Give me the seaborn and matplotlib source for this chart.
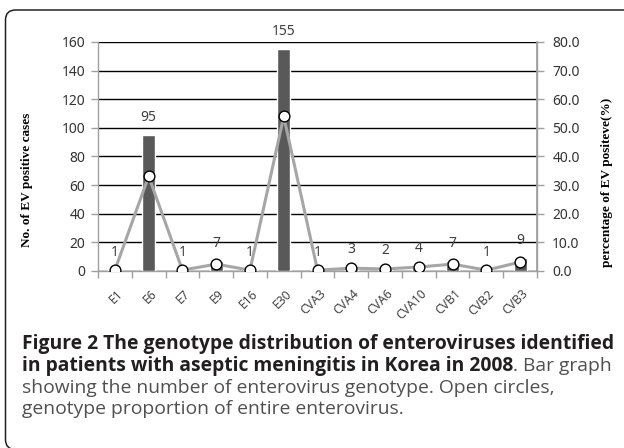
import numpy as np
import pandas as pd
import matplotlib
matplotlib.use("Agg")
import matplotlib.pyplot as plt
import matplotlib.transforms as mtransforms
from matplotlib.patches import FancyBboxPatch
import seaborn as sns

genotypes = ["E1", "E6", "E7", "E9", "E16", "E30", "CVA3", "CVA4", "CVA6",
             "CVA10", "CVB1", "CVB2", "CVB3"]
cases = [1, 95, 1, 7, 1, 155, 1, 3, 2, 4, 7, 1, 9]
percent = [0.3, 33.1, 0.3, 2.4, 0.3, 54.0, 0.3, 1.0, 0.7, 1.4, 2.4, 0.3, 3.1]
left_ticks = [0, 20, 40, 60, 80, 100, 120, 140, 160]
right_ticks = [0.0, 10.0, 20.0, 30.0, 40.0, 50.0, 60.0, 70.0, 80.0]

df = pd.DataFrame({"genotype": genotypes, "cases": cases, "percent": percent})
df["pos"] = np.arange(len(df))

sns.set_theme(style="white")
plt.rcParams["font.family"] = ["Noto Sans", "DejaVu Sans"]

fig = plt.figure(figsize=(6.24, 4.48), dpi=100)
W, H = 624, 448
ax = fig.add_axes([98 / W, 1 - 271 / H, (537 - 98) / W, (271 - 42) / H])

sns.barplot(data=df, x="genotype", y="cases", order=genotypes, color="#595959",
            saturation=1, width=0.39, ax=ax, zorder=3)
for c in ax.containers:
    ax.bar_label(c, labels=[str(v) for v in cases], padding=7, fontsize=10,
                 color="#404040")

ax.set_ylim(0, 160)
ax.set_yticks(left_ticks)
ax.set_xlim(-0.5, len(genotypes) - 0.5)
ax.yaxis.grid(True, color="black", linewidth=1.0, zorder=0)
ax.set_axisbelow(True)
ax.set_xlabel("")
ax.set_ylabel("No. of EV positive cases", family="Liberation Serif",
              fontweight="bold", fontsize=9.5, color="black")
ax.yaxis.set_label_coords(-0.148, 0.40)
ax.tick_params(axis="y", labelsize=10, labelcolor="#333333", length=5,
               color="#a0a0a0", width=1, direction="out", left=True, pad=4)
ax.set_xticks(np.arange(len(genotypes)))
ax.set_xticklabels(genotypes, rotation=45, ha="right", va="center",
                   rotation_mode="anchor", fontsize=8.8, color="#444444")
ax.tick_params(axis="x", length=0, pad=15)
shift = mtransforms.ScaledTranslation(6 / 100, 0, fig.dpi_scale_trans)
for lab in ax.get_xticklabels():
    lab.set_transform(lab.get_transform() + shift)
ax.set_xticks(np.arange(len(genotypes) + 1) - 0.5, minor=True)
ax.tick_params(axis="x", which="minor", length=5, color="#a0a0a0", width=1,
               bottom=True, direction="out")
for s in ["left", "bottom", "right"]:
    ax.spines[s].set_color("#a0a0a0")
    ax.spines[s].set_linewidth(1)
ax.spines["top"].set_visible(False)

ax2 = ax.twinx()
sns.lineplot(data=df, x="pos", y="percent", color="#a6a6a6", linewidth=2.2,
             ax=ax2, zorder=4)
sns.scatterplot(data=df, x="pos", y="percent", color="white", edgecolor="black",
                linewidth=1.0, s=60, ax=ax2, zorder=5)
ax2.set_ylim(0, 80)
ax2.set_yticks(right_ticks)
ax2.set_yticklabels([f"{v:.1f}" for v in right_ticks])
ax2.set_xlim(-0.5, len(genotypes) - 0.5)
ax2.set_xlabel("")
ax2.set_ylabel("percentage of EV positeve(%)", family="Liberation Serif",
               fontweight="bold", fontsize=9.5, color="black", rotation=90)
ax2.yaxis.set_label_coords(1.146, 0.385)
ax2.tick_params(axis="y", labelsize=10, labelcolor="#333333", length=5,
                color="#a0a0a0", width=1, direction="out", right=True, pad=6)
for s in ["left", "bottom", "top"]:
    ax2.spines[s].set_visible(False)
ax2.spines["right"].set_color("#a0a0a0")
ax2.grid(False)

# caption
cap_font = ["Open Sans", "DejaVu Sans"]
fs = 13.9
bold_c = "#231f20"
reg_c = "#505050"
bw = "bold"
x0 = 22 / W
fig.text(x0, 1 - 349 / H,
         "Figure 2 The genotype distribution of enteroviruses identified",
         fontsize=fs, fontweight=bw, family=cap_font, color=bold_c,
         va="baseline", ha="left")
t2 = fig.text(x0, 1 - 371 / H,
              "in patients with aseptic meningitis in Korea in 2008",
              fontsize=fs, fontweight=bw, family=cap_font, color=bold_c,
              va="baseline", ha="left")
t2b = fig.text(0, 1 - 371 / H, ". Bar graph", fontsize=fs, family=cap_font,
               color=reg_c, va="baseline", ha="left")
fig.text(x0, 1 - 393 / H,
         "showing the number of enterovirus genotype. Open circles,",
         fontsize=fs, family=cap_font, color=reg_c, va="baseline", ha="left")
fig.text(x0, 1 - 414 / H,
         "genotype proportion of entire enterovirus.",
         fontsize=fs, family=cap_font, color=reg_c, va="baseline", ha="left")

fig.canvas.draw()
r = fig.canvas.get_renderer()
bb = t2.get_window_extent(renderer=r)
t2b.set_position((bb.x1 / W, 1 - 371 / H))

box = FancyBboxPatch((0.055, -0.015), 6.5, 4.395,
                     boxstyle="round,pad=0,rounding_size=0.1",
                     transform=fig.dpi_scale_trans, fill=False,
                     edgecolor="#222222", linewidth=1.1)
fig.patches.append(box)

fig.savefig("out.png", dpi=100)
